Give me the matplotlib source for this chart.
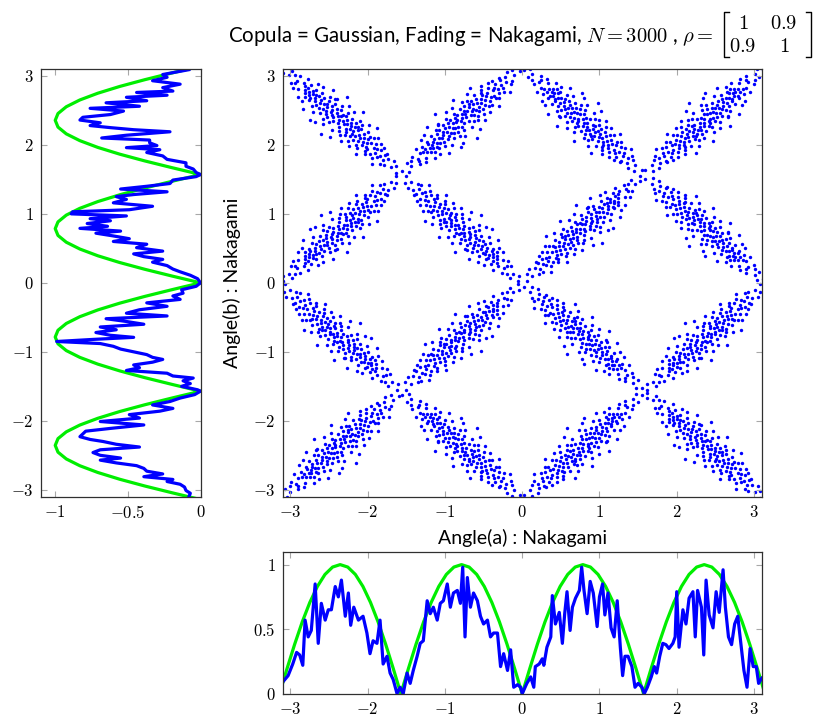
import numpy as np
import matplotlib
matplotlib.use('Agg')
from matplotlib import pyplot as plt
from matplotlib import ticker
from matplotlib.lines import Line2D

plt.rcParams['mathtext.fontset'] = 'cm'
plt.rcParams['font.family'] = ['Lato', 'DejaVu Sans']

BLUE = '#0000ff'
GREEN = '#00ee00'

# empirical density of Angle(a), bottom panel
pa_x = [-3.10, -3.03, -2.97, -2.92, -2.88, -2.84, -2.81, -2.77, -2.73, -2.68,
        -2.64, -2.60, -2.55, -2.51, -2.47, -2.42, -2.38, -2.34, -2.29, -2.25,
        -2.22, -2.18, -2.12, -2.06, -2.01, -1.97, -1.93, -1.88, -1.84, -1.80,
        -1.75, -1.71, -1.67, -1.62, -1.58, -1.54, -1.49, -1.45, -1.41, -1.36,
        -1.32, -1.28, -1.23, -1.19, -1.15, -1.10, -1.06, -1.02, -0.97, -0.93,
        -0.89, -0.84, -0.80, -0.77, -0.74, -0.71, -0.67, -0.63, -0.58, -0.54,
        -0.50, -0.45, -0.41, -0.37, -0.32, -0.28, -0.24, -0.19, -0.15, -0.11,
        -0.06, -0.02, 0.00, 0.06, 0.11, 0.15, 0.17, 0.22, 0.26, 0.28,
        0.32, 0.37, 0.39, 0.43, 0.48, 0.52, 0.55, 0.58, 0.62, 0.65,
        0.69, 0.74, 0.77, 0.80, 0.84, 0.88, 0.92, 0.97, 1.00, 1.04,
        1.07, 1.11, 1.15, 1.19, 1.23, 1.27, 1.30, 1.33, 1.37, 1.42,
        1.46, 1.50, 1.55, 1.58, 1.62, 1.67, 1.71, 1.74, 1.78, 1.82,
        1.86, 1.90, 1.95, 1.98, 2.00, 2.03, 2.08, 2.12, 2.16, 2.21,
        2.24, 2.27, 2.32, 2.35, 2.38, 2.42, 2.47, 2.51, 2.55, 2.60,
        2.63, 2.67, 2.71, 2.75, 2.79, 2.83, 2.87, 2.91, 2.95, 2.99,
        3.03, 3.06, 3.10]
pa_y = [0.09, 0.14, 0.23, 0.32, 0.30, 0.22, 0.57, 0.44, 0.49, 0.85,
        0.39, 0.70, 0.57, 0.65, 0.65, 0.83, 0.75, 0.88, 0.60, 0.78,
        0.53, 0.67, 0.57, 0.60, 0.47, 0.31, 0.41, 0.39, 0.57, 0.23,
        0.29, 0.16, 0.11, 0.00, 0.05, 0.00, 0.16, 0.08, 0.18, 0.29,
        0.39, 0.41, 0.72, 0.62, 0.67, 0.57, 0.70, 0.72, 0.85, 0.67,
        0.78, 0.80, 0.70, 0.98, 0.44, 0.90, 0.67, 0.78, 0.72, 0.60,
        0.54, 0.57, 0.44, 0.47, 0.47, 0.21, 0.31, 0.18, 0.34, 0.05,
        0.07, 0.05, 0.00, 0.08, 0.13, 0.05, 0.21, 0.23, 0.27, 0.22,
        0.36, 0.44, 0.76, 0.54, 0.63, 0.39, 0.62, 0.79, 0.49, 0.67,
        0.74, 0.80, 0.98, 0.80, 0.62, 0.87, 0.78, 0.52, 0.75, 0.85,
        0.61, 0.78, 0.51, 0.44, 0.72, 0.36, 0.14, 0.29, 0.29, 0.21,
        0.05, 0.08, 0.05, 0.00, 0.05, 0.13, 0.21, 0.16, 0.29, 0.39,
        0.38, 0.35, 0.39, 0.44, 0.79, 0.36, 0.65, 0.54, 0.74, 0.79,
        0.44, 0.80, 0.67, 0.30, 0.88, 0.61, 0.51, 0.79, 0.63, 0.96,
        0.67, 0.44, 0.38, 0.54, 0.60, 0.39, 0.18, 0.05, 0.35, 0.21,
        0.21, 0.08, 0.12]

# empirical density of Angle(b), left panel (drawn towards negative x)
pb_y = [3.09, 3.02, 2.98, 2.93, 2.88, 2.83, 2.78, 2.76, 2.72, 2.69,
        2.64, 2.61, 2.56, 2.53, 2.49, 2.44, 2.40, 2.36, 2.32, 2.28,
        2.25, 2.22, 2.19, 2.14, 2.10, 2.07, 2.03, 1.99, 1.96, 1.93,
        1.89, 1.84, 1.79, 1.74, 1.69, 1.65, 1.60, 1.57, 1.54, 1.49,
        1.44, 1.40, 1.36, 1.32, 1.28, 1.25, 1.21, 1.16, 1.11, 1.06,
        1.03, 1.00, 0.97, 0.93, 0.90, 0.86, 0.82, 0.79, 0.75, 0.72,
        0.68, 0.64, 0.60, 0.56, 0.51, 0.46, 0.42, 0.38, 0.34, 0.30,
        0.25, 0.20, 0.16, 0.11, 0.06, 0.00,
        -0.05, -0.10, -0.15, -0.19, -0.24, -0.29, -0.34, -0.39, -0.44, -0.48,
        -0.52, -0.56, -0.60, -0.64, -0.68, -0.72, -0.76, -0.79, -0.82, -0.85,
        -0.88, -0.92, -0.96, -1.00, -1.04, -1.08, -1.11, -1.15, -1.19, -1.23,
        -1.27, -1.31, -1.35, -1.38, -1.42, -1.46, -1.50, -1.55, -1.57, -1.62,
        -1.67, -1.72, -1.77, -1.82, -1.86, -1.91, -1.96, -2.01, -2.06, -2.11,
        -2.15, -2.19, -2.23, -2.27, -2.30, -2.34, -2.38, -2.42, -2.46, -2.50,
        -2.54, -2.57, -2.61, -2.65, -2.69, -2.73, -2.77, -2.81, -2.85, -2.88,
        -2.92, -2.96, -3.01, -3.05, -3.10]
pb_x = [-0.08, -0.26, -0.23, -0.33, -0.14, -0.26, -0.19, -0.44, -0.23, -0.51,
        -0.37, -0.65, -0.42, -0.76, -0.53, -0.62, -0.81, -0.83, -0.69, -0.76,
        -0.62, -0.46, -0.21, -0.51, -0.68, -0.35, -0.35, -0.30, -0.51, -0.28,
        -0.37, -0.26, -0.23, -0.10, -0.10, -0.05, -0.03, 0.00, -0.03, -0.19,
        -0.21, -0.37, -0.55, -0.23, -0.46, -0.58, -0.51, -0.60, -0.33, -0.49,
        -0.88, -0.89, -0.51, -0.76, -0.62, -0.78, -0.64, -0.83, -0.55, -0.72,
        -0.60, -0.49, -0.60, -0.37, -0.44, -0.26, -0.46, -0.39, -0.26, -0.33,
        -0.23, -0.19, -0.14, -0.07, -0.02, 0.00,
        -0.03, -0.13, -0.12, -0.19, -0.14, -0.37, -0.23, -0.42, -0.51, -0.23,
        -0.65, -0.51, -0.39, -0.69, -0.58, -0.72, -0.62, -0.46, -0.74, -0.99,
        -0.69, -0.60, -0.55, -0.46, -0.37, -0.33, -0.26, -0.33, -0.46, -0.42,
        -0.51, -0.23, -0.19, -0.05, -0.12, -0.07, -0.13, -0.02, 0.00, -0.04,
        -0.14, -0.21, -0.33, -0.19, -0.28, -0.49, -0.42, -0.69, -0.39, -0.62,
        -0.79, -0.81, -0.83, -0.76, -0.67, -0.58, -0.42, -0.69, -0.74, -0.69,
        -0.55, -0.69, -0.58, -0.44, -0.39, -0.37, -0.26, -0.39, -0.19, -0.23,
        -0.14, -0.11, -0.10, -0.07, -0.08]

# theoretical density |sin 2t| over one quarter period, step pi/32
arch = [0.0, 0.195, 0.383, 0.556, 0.707, 0.831, 0.924, 0.981, 1.0,
        0.981, 0.924, 0.831, 0.707, 0.556, 0.383, 0.195]
theory = arch * 4 + [0.0]
theta = np.linspace(-np.pi, np.pi, len(theory))

# joint samples for one cell: position along the diagonal and
# perpendicular distance from it
band_pos = [0.035, 0.071, 0.118, 0.124, 0.167, 0.196,
            0.203, 0.219, 0.224, 0.251, 0.277, 0.283, 0.287, 0.309, 0.335,
            0.338, 0.342, 0.346, 0.361, 0.379, 0.381, 0.389, 0.396, 0.398,
            0.402, 0.404, 0.417, 0.431, 0.433, 0.436, 0.448, 0.463, 0.466,
            0.469, 0.471, 0.482, 0.497, 0.513, 0.516, 0.518, 0.524, 0.531,
            0.547, 0.549, 0.558, 0.562, 0.571, 0.583, 0.586, 0.592, 0.598,
            0.603, 0.605, 0.611, 0.624, 0.627, 0.633, 0.634, 0.648, 0.657,
            0.659, 0.664, 0.671, 0.679, 0.681, 0.692, 0.697, 0.699, 0.712,
            0.716, 0.719, 0.727, 0.738, 0.741, 0.744, 0.756, 0.761, 0.764,
            0.778, 0.783,
            0.788, 0.792, 0.806, 0.808, 0.813, 0.827, 0.829, 0.836, 0.841,
            0.853, 0.855, 0.858, 0.872, 0.876, 0.884, 0.889, 0.891, 0.903,
            0.906, 0.917, 0.921, 0.924, 0.932, 0.941, 0.944, 0.951, 0.958,
            0.963, 0.968,
            0.974, 0.981, 0.983, 0.996, 1.008, 1.011, 1.013, 1.027, 1.035,
            1.038, 1.049, 1.052, 1.066, 1.071, 1.074, 1.088, 1.093, 1.101,
            1.104, 1.107, 1.122, 1.129, 1.131, 1.146, 1.152, 1.158, 1.167,
            1.173, 1.186, 1.189, 1.204, 1.221, 1.226, 1.232, 1.249, 1.263,
            1.268, 1.271, 1.288, 1.302, 1.306, 1.327, 1.331, 1.352, 1.364,
            1.381, 1.397, 1.426, 1.452, 1.478, 1.526]
band_off = [0.02, -0.04, 0.06, -0.01, 0.05, -0.07,
            0.08, -0.03, 0.01, -0.10, 0.05, 0.13, -0.06, 0.03, -0.01, 0.09,
            -0.14, 0.04, -0.05, 0.17, 0.00, -0.08, 0.06, -0.02,
            -0.15, 0.09, 0.02, -0.05, 0.19, -0.08, 0.04, 0.00, -0.22, 0.06,
            0.12, -0.03, -0.11, 0.03, 0.25, -0.06, 0.08, -0.01, -0.16, 0.14,
            0.02, -0.07, 0.10, -0.27, 0.05, -0.04, 0.17,
            0.01, -0.11, 0.18, -0.03, 0.07, -0.24, 0.12, -0.06, 0.04, 0.30,
            -0.14, 0.00, 0.09, -0.09, -0.02, 0.16, -0.19, 0.05, -0.04, 0.11,
            -0.12, 0.03, 0.23, -0.07, 0.05, -0.32, 0.08, -0.01, 0.14,
            -0.05, 0.10, -0.17, 0.02, 0.21, -0.08, 0.06, -0.01, -0.26, 0.13,
            0.03, -0.12, 0.07, 0.29, -0.04, -0.15, 0.04, 0.12, -0.06, 0.00,
            0.18, -0.10, 0.07, -0.21, 0.01, 0.09, -0.03, 0.15, -0.07,
            0.06, -0.14, 0.11, -0.02, 0.22, -0.08, 0.03, -0.18, 0.08, 0.00,
            -0.05, 0.14, -0.10, 0.04, 0.26, -0.01, -0.13, 0.07, 0.10, -0.06,
            0.02, -0.20, 0.13, -0.03, 0.05, 0.17, -0.09,
            -0.05, 0.09, -0.12, 0.02, 0.14, -0.07, 0.04, -0.01, -0.10, 0.07,
            0.12, -0.04, 0.00, -0.15, 0.06, 0.09, -0.02, -0.08,
            0.04, -0.06, 0.08, -0.02, 0.05, -0.03]

a = np.array(band_pos)
e = np.array(band_off) / np.sqrt(2)
u = a - e
v = a + e
h = np.pi / 2

# each quarter-period cell holds a diagonal band; rising and falling
# cells alternate like a checkerboard
rising = [(u, v), (v, u), (h - u, h - v), (h - v, h - u)]
falling = [(h - u, v), (u, h - v), (h - v, u), (v, h - u)]
xs, ys = [], []
for i in range(4):
    for j in range(4):
        k = (i + 2 * j + j // 2) % 4
        cu, cv = rising[k] if (i + j) % 2 == 0 else falling[k]
        xs.append(-np.pi + i * h + cu)
        ys.append(-np.pi + j * h + cv)
xs = np.concatenate(xs)
ys = np.concatenate(ys)

W, H = 818, 715
fig = plt.figure(figsize=(W / 100, H / 100), dpi=100)
main_box = [282.7 / W, (H - 496.7) / H, 479 / W, 427.7 / H]
ax = fig.add_axes(main_box)
axl = fig.add_axes([40.7 / W, main_box[1], 159.8 / W, main_box[3]])
axb = fig.add_axes([main_box[0], (H - 693.7) / H, main_box[2], 142 / H])

fmt = ticker.FuncFormatter(lambda val, pos: r'$%g$' % val)
for a_ in (ax, axl, axb):
    a_.tick_params(direction='in', length=4, width=0.8, color='#a8a8a8',
                   top=True, right=True, labelsize=12, pad=5)
    a_.xaxis.set_major_formatter(fmt)
    a_.yaxis.set_major_formatter(fmt)
    for s in a_.spines.values():
        s.set_color('#303030')
        s.set_linewidth(0.9)

ax.scatter(xs, ys, s=6, color=BLUE, linewidths=0)
ax.set_xlim(-3.1, 3.1)
ax.set_ylim(-3.1, 3.1)
ax.set_xticks(range(-3, 4))
ax.set_yticks(range(-3, 4))
ax.set_xlabel('Angle(a) : Nakagami', fontsize=14)
ax.set_ylabel('Angle(b) : Nakagami', fontsize=14)
ax.xaxis.set_label_coords(0.5, -0.076)
ax.yaxis.set_label_coords(-0.088, 0.5)

axl.plot(-np.array(theory), theta, color=GREEN, lw=2.3, solid_capstyle='butt')
axl.plot(pb_x, pb_y, color=BLUE, lw=2.3)
axl.set_xlim(-1.1, 0)
axl.set_ylim(-3.1, 3.1)
axl.set_xticks([-1, -0.5, 0])
axl.set_yticks(range(-3, 4))

axb.plot(theta, theory, color=GREEN, lw=2.3, solid_capstyle='butt')
axb.plot(pa_x, pa_y, color=BLUE, lw=2.3)
axb.set_xlim(-3.1, 3.1)
axb.set_ylim(0, 1.1)
axb.set_xticks(range(-3, 4))
axb.set_yticks([0, 0.5, 1])


def px(x, y):
    return x / W, 1 - y / H


# title line with the correlation matrix set by hand
fig.text(*px(713, 42), r'Copula = Gaussian, Fading = Nakagami, '
         r'$N = 3000$ , $\rho =$', ha='right', va='baseline', fontsize=14.8)
rho = [['1', '0.9'], ['0.9', '1']]
for r, yb in enumerate((29, 52)):
    for c, xc in enumerate((743, 784)):
        fig.text(*px(xc, yb), '$%s$' % rho[r][c], ha='center',
                 va='baseline', fontsize=14.8)
for x0, d in ((724, 5), (811, -5)):
    xx = [x0 + d, x0, x0, x0 + d]
    yy = [12, 12, 57, 57]
    fig.add_artist(Line2D([q / W for q in xx], [1 - q / H for q in yy],
                          transform=fig.transFigure, color='black', lw=1.0))

fig.savefig('out.png', dpi=100)
